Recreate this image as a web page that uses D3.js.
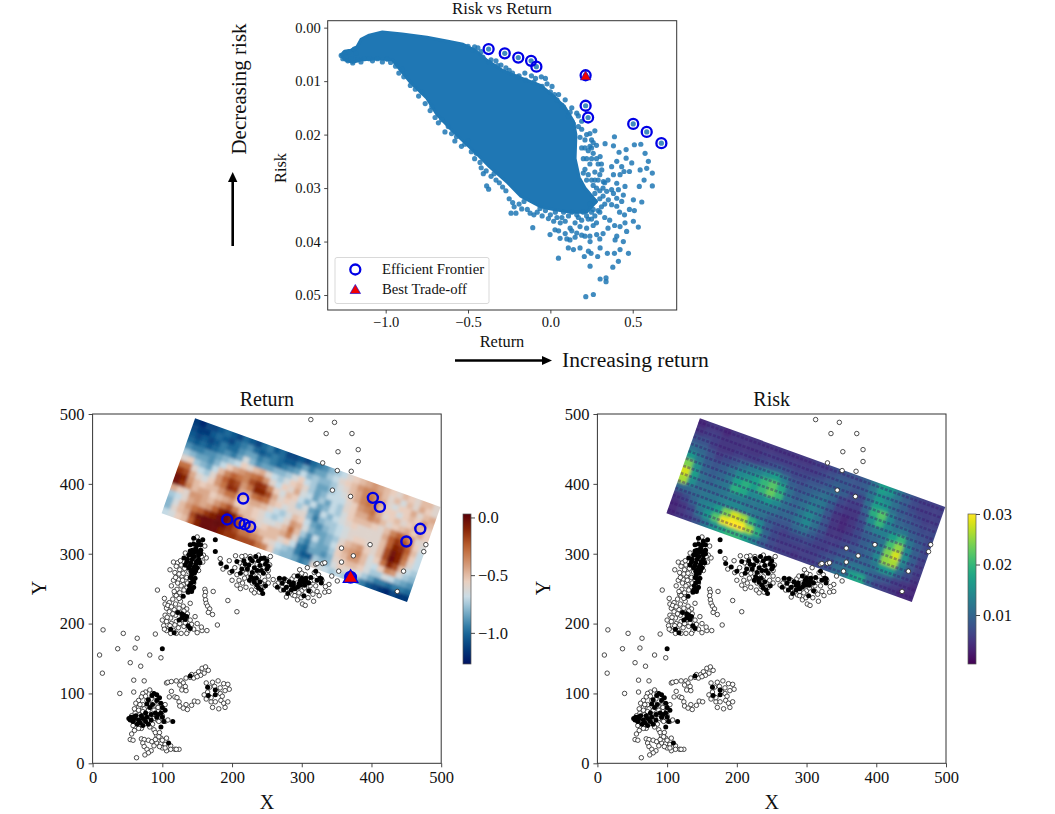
<!DOCTYPE html>
<html>
<head>
<meta charset="utf-8">
<script src="https://cdn.jsdelivr.net/npm/d3@7"></script>
<style>
  html, body { margin: 0; padding: 0; background: #fff; }
  svg { display: block; }
  text { font-family: "Liberation Serif", serif; fill: #111; }
</style>
</head>
<body>
<div id="chart"></div>
<script>
// top scatter, dense part of the cloud as an outline [return, risk]
var cloudOutline = [[-1.270,0.0051],[-1.250,0.0044],[-1.210,0.0042],[-1.175,0.0036],[-1.150,0.0022],[-1.100,0.0014],[-1.020,0.0008],[-0.900,0.0012],[-0.750,0.0018],[-0.630,0.0025],[-0.530,0.0031],[-0.450,0.0044],[-0.390,0.0060],[-0.290,0.0080],[-0.180,0.0094],[-0.060,0.0108],[0.020,0.0128],[0.090,0.0150],[0.140,0.0175],[0.155,0.0200],[0.150,0.0245],[0.175,0.0280],[0.210,0.0300],[0.280,0.0325],[0.220,0.0345],[0.120,0.0345],[0.020,0.0340],[-0.060,0.0335],[-0.180,0.0315],[-0.260,0.0290],[-0.370,0.0260],[-0.450,0.0235],[-0.530,0.0212],[-0.610,0.0188],[-0.690,0.0162],[-0.750,0.0132],[-0.850,0.0102],[-0.930,0.0072],[-0.960,0.0060],[-1.050,0.0058],[-1.150,0.0060],[-1.200,0.0065],[-1.250,0.0060]];

// single points read around the cloud
var riskReturnPoints = [[-1.25,0.0048],[-1.24,0.0055],[-1.22,0.0045],[-1.2,0.0066],[-1.19,0.004],[-1.17,0.006],[-1.13,0.0058],[-1.1,0.0058],[-1.05,0.0058],[-0.94,0.0072],[-0.9,0.0078],[-0.87,0.0085],[-0.78,0.012],[-0.72,0.0148],[-0.66,0.0172],[-0.62,0.0185],[-0.57,0.0204],[-0.5,0.0212],[-0.45,0.0235],[-0.427,0.0252],[-0.407,0.0273],[-0.387,0.0296],[-0.375,0.0302],[-0.342,0.0273],[-0.31,0.029],[-0.239,0.0347],[-0.209,0.0347],[-0.229,0.0327],[-0.174,0.0339],[-0.123,0.0347],[-0.107,0.0374],[-0.063,0.0338],[-0.012,0.0357],[-0.002,0.0387],[0.028,0.0378],[0.059,0.0394],[0.049,0.0431],[0.109,0.0412],[0.14,0.0415],[0.18,0.0412],[0.231,0.0418],[0.302,0.0412],[0.281,0.0387],[0.21,0.039],[0.16,0.0384],[0.119,0.0397],[0.241,0.04],[0.389,0.0204],[0.332,0.0217],[0.383,0.0221],[0.417,0.0233],[0.46,0.0228],[0.51,0.0219],[0.549,0.0218],[0.575,0.0235],[0.595,0.025],[0.619,0.0272],[0.619,0.0296],[0.569,0.0285],[0.585,0.0263],[0.545,0.0266],[0.48,0.0269],[0.447,0.0269],[0.433,0.026],[0.403,0.025],[0.383,0.0275],[0.423,0.0275],[0.494,0.0253],[0.46,0.0244],[0.302,0.0241],[0.312,0.0266],[0.372,0.026],[0.322,0.0288],[0.403,0.0291],[0.453,0.0297],[0.54,0.0297],[0.504,0.0322],[0.555,0.0326],[0.51,0.0342],[0.534,0.0373],[0.504,0.0362],[0.453,0.0365],[0.463,0.0381],[0.423,0.0372],[0.403,0.039],[0.443,0.04],[0.393,0.0397],[0.423,0.0415],[0.474,0.0422],[0.389,0.0422],[0.346,0.0422],[0.413,0.0437],[0.379,0.0448],[0.287,0.0428],[0.247,0.0422],[0.241,0.0446],[0.206,0.0428],[0.302,0.047],[0.338,0.0468],[0.338,0.0475],[0.261,0.0499],[0.215,0.0503],[0.342,0.0306],[0.352,0.0322],[0.372,0.0331],[0.403,0.0334],[0.433,0.0325],[0.443,0.0313],[0.413,0.0303],[0.372,0.0303],[0.403,0.0319],[0.383,0.031],[0.3,0.0345],[0.33,0.0355],[0.36,0.036],[0.39,0.037],[0.42,0.0345],[0.45,0.035],[0.48,0.034],[0.35,0.0375],[0.32,0.0385],[0.28,0.0365],[0.3,0.0395],[0.25,0.0345],[0.26,0.037],[0.22,0.0375],[0.19,0.036],[0.15,0.0365],[0.12,0.0375],[0.09,0.0385],[0.06,0.0365],[0.04,0.0355],[0.08,0.0345],[0.13,0.0345],[0.17,0.0355],[0.2,0.0345],[0.24,0.039],[0.1,0.0395],[0.24,0.0198],[0.27,0.0193],[0.21,0.021],[0.25,0.021],[0.28,0.022],[0.23,0.023],[0.26,0.0235],[0.2,0.0245],[0.24,0.0255],[0.29,0.0255],[0.3,0.0275],[0.33,0.029],[0.28,0.03],[0.35,0.0285],[0.3,0.032],[0.21,0.0265],[0.25,0.0285],[0.27,0.027],[0.32,0.0315],[0.27,0.0325],[-0.02,0.0105],[0.01,0.011],[0.05,0.0125],[0.09,0.0135],[0.13,0.015],[0.16,0.016],[0.19,0.0175],[0.17,0.0185],[0.14,0.018],[0.11,0.0165],[-0.03,0.0095],[-0.055,0.0092],[-0.09,0.0095],[-0.115,0.009],[-0.155,0.0085],[-0.19,0.009],[-0.23,0.0085],[-0.27,0.0075],[-0.33,0.0062],[-0.36,0.006],[-0.3,0.007],[-0.41,0.0055],[-0.44,0.0038],[-0.5,0.0035],[0.025,0.0125],[0.07,0.0145],
[-0.97,0.0065],[-0.92,0.0085],[-0.89,0.0092],[-0.85,0.0108],[-0.82,0.0115],[-0.8,0.0128],[-0.76,0.0142],[-0.73,0.0155],[-0.7,0.0168],[-0.68,0.0178],[-0.64,0.0195],[-0.6,0.0198],[-0.58,0.0212],[-0.54,0.0222],[-0.52,0.0218],[-0.48,0.0232],[-0.46,0.0245],[-0.42,0.0262],[-0.39,0.0268],[-0.36,0.0278],[-0.33,0.0285],[-0.29,0.0298],[-0.27,0.0305],[-0.25,0.032],[-0.22,0.0335],[-0.19,0.033],[-0.16,0.0325],[-0.14,0.034],[-0.1,0.035],[-0.08,0.0345],[-0.05,0.0352],[-0.03,0.0342],[0.0,0.035],[0.02,0.0362],[0.03,0.0345],[0.05,0.038],[0.07,0.0355],[0.09,0.0362],[0.11,0.0352],[0.13,0.038],[0.15,0.0392],[0.18,0.0372],[0.16,0.035],[0.23,0.0358],[0.25,0.0358],[0.27,0.0352],[0.22,0.0352],[0.19,0.0388],[0.31,0.0335],[0.33,0.033],[0.29,0.0342],[0.26,0.034],[0.24,0.033],[0.27,0.031],[0.3,0.0305],[0.32,0.03],[0.29,0.0285],[0.26,0.0295],[0.23,0.0275],[0.2,0.0272],[0.22,0.0285],[0.27,0.0285],[0.31,0.0255],[0.28,0.0245],[0.25,0.0245],[0.22,0.0245],[0.19,0.0225],[0.18,0.0205],[0.21,0.0225],[0.24,0.0222],[0.26,0.0215],[0.19,0.019],[0.22,0.02],[0.25,0.0225],[0.17,0.0165],[0.12,0.0158],[0.08,0.0148],[0.04,0.0135],[0.0,0.012],[-0.05,0.011],[-0.1,0.0102],[-0.15,0.0098],[-0.2,0.0092],[-0.25,0.008],[-0.32,0.0071],[-0.37,0.0065],[-0.42,0.0045],[-0.47,0.0042],[-0.46,0.0036],[-1.27,0.0052],[-1.26,0.0058],[-1.23,0.0062],[-1.21,0.0058],[-1.18,0.0048],[-1.15,0.0064],[-1.08,0.0062],[-1.02,0.0064],[-0.99,0.0059]];

var frontierReturn = [-0.375,-0.277,-0.195,-0.117,-0.085,0.214,0.214,0.229,0.503,0.585,0.674];
var frontierRisk = [0.0040,0.0048,0.0056,0.0062,0.0073,0.0089,0.0146,0.0168,0.0180,0.0195,0.0216];
var bestReturn = 0.214, bestRisk = 0.0092;

var xTicksTop = [-1.0,-0.5,0.0,0.5];
var yTicksTop = [0,0.01,0.02,0.03,0.04,0.05];
var mapTicks = [0,100,200,300,400,500];
var returnBarTicks = [0,-0.5,-1.0];
var riskBarTicks = [0.01,0.02,0.03];

// map corners of the scanned rectangle, map units
var rectTopLeft = [147,494], rectTopRight = [499,367], rectBottomLeft = [99,358];

// return grid, rows run from the long top edge down to the long bottom edge
var returnGrid = [
[-1.15,-1.2,-1.1,-1.1,-1.05,-1.0,-1.05,-1.1,-1.0,-1.05,-1.1,-1.0,-.95,-1.05,-1.0,-1.1,-1.1,-1.05,-1.1,-1.0,-.95,-.9,-.8,-.75,-.7,-.6,-.55,-.5,-.45,-.4,-.45,-.5,-.55,-.6,-.5,-.55,-.6,-.5,-.5,-.6],
[-1.1,-1.15,-1.15,-1.05,-1.0,-1.05,-1.1,-1.0,-.95,-.9,-1.0,-1.05,-1.0,-.95,-1.0,-1.05,-1.05,-.95,-.85,-.95,-.85,-.85,-.75,-.7,-.6,-.55,-.5,-.4,-.35,-.35,-.4,-.5,-.6,-.5,-.65,-.5,-.6,-.45,-.55,-.6],
[-1.05,-1.1,-1.05,-1.1,-1.05,-.95,-1.0,-1.0,-.9,-.85,-.85,-.95,-.9,-.95,-1.0,-.95,-.9,-.85,-.7,-.8,-.75,-.8,-.8,-.75,-.65,-.6,-.5,-.45,-.35,-.3,-.4,-.45,-.6,-.65,-.55,-.55,-.45,-.6,-.5,-.45],
[-1.0,-1.05,-1.0,-1.05,-1.0,-.95,-.9,-.95,-.85,-.65,-.8,-.9,-.85,-.85,-.8,-.8,-.75,-.65,-.55,-.7,-.75,-.85,-.85,-.75,-.7,-.65,-.55,-.45,-.35,-.3,-.35,-.5,-.55,-.55,-.65,-.55,-.5,-.55,-.4,-.5],
[-.9,-.95,-.95,-.9,-.9,-.85,-.8,-.75,-.7,-.55,-.6,-.5,-.45,-.6,-.7,-.75,-.65,-.55,-.5,-.6,-.75,-.85,-.8,-.7,-.7,-.7,-.6,-.55,-.4,-.35,-.3,-.45,-.6,-.55,-.5,-.6,-.55,-.45,-.5,-.55],
[-.75,-.8,-.85,-.85,-.9,-.8,-.7,-.55,-.45,-.4,-.35,-.3,-.25,-.4,-.6,-.7,-.55,-.6,-.45,-.65,-.7,-.85,-.75,-.85,-.7,-.75,-.6,-.55,-.45,-.45,-.35,-.4,-.5,-.6,-.55,-.5,-.45,-.55,-.45,-.55],
[-.6,-.55,-.75,-.8,-.85,-.7,-.5,-.35,-.25,-.3,-.35,-.2,-.12,-.15,-.35,-.55,-.65,-.5,-.55,-.7,-.8,-.7,-.85,-.8,-.7,-.75,-.65,-.55,-.5,-.5,-.5,-.55,-.6,-.5,-.35,-.25,-.3,-.4,-.6,-.6],
[-.3,-.3,-.6,-.7,-.75,-.6,-.4,-.25,-.15,-.2,-.4,-.3,-.1,-.1,-.2,-.45,-.6,-.55,-.6,-.75,-.65,-.85,-.9,-.7,-.8,-.7,-.65,-.6,-.55,-.6,-.6,-.6,-.6,-.45,-.25,-.15,-.2,-.3,-.55,-.65],
[-.15,-.2,-.45,-.6,-.65,-.55,-.4,-.3,-.12,-.15,-.45,-.45,-.3,-.25,-.3,-.5,-.55,-.65,-.6,-.6,-.6,-.8,-.95,-.8,-.75,-.75,-.7,-.65,-.6,-.6,-.6,-.6,-.6,-.5,-.25,-.1,-.12,-.25,-.5,-.7],
[-.05,-.1,-.4,-.5,-.55,-.5,-.5,-.4,-.3,-.3,-.5,-.55,-.45,-.45,-.5,-.6,-.7,-.75,-.65,-.5,-.55,-.7,-.85,-.9,-.8,-.75,-.7,-.65,-.6,-.55,-.55,-.6,-.6,-.5,-.2,-.05,-.1,-.3,-.55,-.7],
[-.05,-.15,-.35,-.5,-.45,-.45,-.55,-.5,-.45,-.4,-.55,-.55,-.5,-.55,-.6,-.7,-.75,-.7,-.6,-.4,-.45,-.65,-.8,-.85,-.85,-.8,-.75,-.6,-.5,-.45,-.4,-.55,-.6,-.5,-.2,-.02,-.1,-.35,-.6,-.7],
[-.45,-.55,-.6,-.4,-.4,-.45,-.5,-.4,-.3,-.2,-.35,-.5,-.5,-.55,-.6,-.65,-.65,-.6,-.5,-.3,-.5,-.75,-.9,-.7,-.85,-.8,-.7,-.55,-.45,-.4,-.35,-.5,-.65,-.55,-.3,-.1,-.2,-.5,-.7,-.75],
[-.75,-.7,-.6,-.45,-.4,-.45,-.4,-.25,-.1,-.03,-.08,-.25,-.5,-.45,-.6,-.55,-.5,-.5,-.45,-.35,-.6,-.85,-.95,-.8,-.85,-.85,-.75,-.55,-.5,-.4,-.4,-.5,-.65,-.7,-.55,-.35,-.4,-.65,-.75,-.8],
[-.8,-.65,-.5,-.4,-.3,-.25,-.15,-.08,-.03,-.02,-.06,-.2,-.4,-.4,-.45,-.5,-.5,-.5,-.6,-.55,-.7,-.95,-1.0,-.85,-.85,-.9,-.8,-.6,-.55,-.5,-.5,-.55,-.65,-.75,-.75,-.65,-.7,-.8,-.85,-.9],
[-.8,-.6,-.5,-.45,-.2,-.05,-.02,-.02,0,-.03,-.12,-.2,-.3,-.3,-.35,-.4,-.55,-.6,-.7,-.75,-.8,-.95,-1.05,-1.05,-.75,-.8,-.8,-.65,-.55,-.6,-.6,-.65,-.75,-.85,-.95,-.95,-1.0,-.95,-.95,-1.0],
[-.7,-.65,-.55,-.5,-.25,-.1,-.02,-.02,-.03,-.1,-.15,-.15,-.2,-.2,-.2,-.3,-.35,-.55,-.75,-.8,-.8,-.85,-.95,-.9,-.6,-.65,-.7,-.75,-.7,-.75,-.75,-.85,-.95,-1.05,-1.1,-1.15,-1.2,-1.1,-1.15,-1.15]
];

var riskGrid = [
[.004,.005,.005,.004,.005,.005,.005,.005,.005,.005,.005,.005,.005,.005,.006,.006,.007,.008,.008,.008,.009,.012,.017,.016,.012,.009,.007,.006,.006,.006],
[.005,.006,.006,.005,.005,.005,.005,.005,.006,.006,.006,.006,.006,.006,.006,.007,.008,.009,.009,.008,.009,.012,.016,.014,.011,.009,.007,.006,.006,.006],
[.008,.008,.006,.005,.005,.006,.006,.006,.007,.008,.009,.008,.007,.007,.008,.008,.009,.010,.009,.007,.007,.011,.017,.016,.011,.009,.008,.007,.006,.006],
[.011,.010,.008,.006,.007,.008,.010,.012,.013,.015,.017,.013,.009,.008,.009,.010,.011,.010,.007,.006,.006,.010,.019,.022,.014,.010,.009,.008,.007,.007],
[.016,.012,.009,.008,.009,.011,.014,.015,.017,.020,.022,.018,.011,.009,.010,.012,.012,.009,.006,.005,.005,.008,.015,.020,.014,.012,.012,.009,.008,.007],
[.024,.015,.010,.009,.010,.012,.017,.019,.017,.020,.023,.020,.012,.010,.011,.013,.012,.008,.005,.004,.005,.007,.011,.013,.013,.017,.020,.012,.009,.007],
[.028,.017,.011,.010,.011,.012,.019,.018,.014,.014,.016,.014,.011,.010,.012,.014,.012,.008,.005,.004,.005,.007,.009,.010,.012,.021,.025,.014,.009,.007],
[.026,.015,.011,.011,.011,.012,.013,.013,.012,.012,.012,.011,.010,.010,.012,.014,.011,.008,.005,.005,.006,.007,.009,.010,.013,.024,.028,.015,.009,.006],
[.010,.010,.011,.012,.012,.013,.014,.014,.013,.012,.011,.009,.008,.008,.010,.011,.009,.007,.006,.006,.007,.008,.009,.010,.014,.025,.026,.013,.008,.006],
[.005,.007,.010,.013,.014,.017,.024,.028,.026,.019,.014,.009,.007,.006,.007,.007,.007,.006,.006,.007,.008,.009,.010,.010,.012,.016,.016,.010,.007,.005],
[.004,.005,.007,.012,.016,.022,.029,.030,.030,.026,.019,.010,.007,.006,.006,.006,.006,.006,.007,.008,.010,.011,.012,.012,.010,.009,.008,.006,.005,.004],
[.004,.005,.006,.008,.012,.015,.018,.020,.020,.017,.013,.009,.007,.006,.006,.005,.006,.006,.007,.008,.011,.012,.017,.018,.010,.007,.006,.005,.004,.004]
];

// colour stops of the return map
var returnColors = ["#001261","#033e7d","#1e6f9d","#71a8c4","#c9dde7","#eacebd","#d39774","#be6533","#8b2706","#590008"];

var mapFrontierX = [216,193,210.6,218,226,402,412,450,470];
var mapFrontierY = [379,349,344,342,338.6,380,367,317.5,335.7];
var mapBestX = 370, mapBestY = 265;

// white sampled locations, map units
var openPoints = [
[313,492],[347,488],[335,472],[372,472],[352,446],[381,449],[330,430],[381,432],[351,419],[371,418],[344,391],[370,382],[398,313],[357,308],[374,297],[478,313],[475,303],[357,288],[330,286],[320,285],[353,275],[446,275],[437,246],[351,261],[339,256],[333,245],
[15,191],[44,186],[64,179],[90,185],[36,164],[61,165],[10,155],[82,155],[98,151],[54,144],[69,139],[14,129],[59,119],[74,118],[39,100],[59,102],
[150,324],[147,318],[154,316],[161,311],[133,301],[135,292],[130,289],[163,294],[159,298],[116,288],[122,287],[111,277],[125,277],[118,273],[128,268],[123,263],[116,262],[113,254],[130,256],[135,251],[121,249],[125,244],[118,242],[127,284],[132,279],[138,274],[135,266],[129,262],[124,271],[140,262],[145,258],[136,258],[131,248],[141,248],[150,292],[155,305],[146,300],[158,288],[152,276],[144,283],[120,282],[126,290],[133,284],[130,272],[119,266],[127,254],[122,258],[117,246],[126,238],[156,296],[151,282],
[103,236],[104,228],[106,222],[110,230],[115,235],[120,240],[126,232],[130,225],[124,222],[117,220],[110,217],[104,212],[112,208],[119,212],[126,215],[135,221],[140,229],[136,214],[129,206],[120,203],[113,200],[106,203],[100,205],[102,197],[109,193],[116,190],[123,194],[131,196],[137,190],[145,192],[150,187],[157,190],[164,190],[142,199],[135,186],[127,186],[120,186],[106,190],[112,186],[150,200],[156,195],[147,210],[140,205],[108,226],[113,224],[119,228],[124,236],[131,218],[115,214],[107,209],[118,198],[125,200],[133,201],[103,192],[111,197],
[161,249],[162,245],[161,240],[162,234],[163,229],[165,225],[168,221],[166,216],[172,213],[173,246],[194,233],[179,198],[207,217],[93,248],
[183,293],[187,278],[196,290],[197,273],[200,262],[207,255],[212,250],[218,265],[222,281],[228,288],[232,277],[225,272],[215,275],[207,270],[204,280],[211,287],[238,267],[242,258],[235,253],[228,248],[232,244],[239,245],[245,252],[252,268],[246,280],[236,285],[249,292],[238,298],[226,296],[219,297],[205,297],[247,262],[254,284],[255,296],[229,258],[215,258],[220,252],[210,262],[215,282],[220,272],[226,262],[230,270],[237,275],[243,288],[233,292],[214,296],[252,276],[241,251],
[259,263],[266,258],[272,252],[280,247],[287,241],[294,234],[301,228],[305,226],[299,237],[290,246],[283,256],[278,262],[286,264],[293,258],[300,247],[309,237],[317,232],[312,246],[303,257],[296,268],[305,270],[314,262],[320,254],[322,246],[325,240],[297,277],[308,280],[318,273],[329,262],[334,253],[343,268],[322,286],[333,287],[339,246],[278,238],[270,248],[262,255],[252,258],[274,258],[282,250],[290,240],[296,244],[304,251],[312,254],[318,262],[308,264],[300,272],[289,268],[277,256],[268,264],[324,270],[316,242],
[82,105],[76,102],[72,100],[86,100],[70,95],[66,90],[62,86],[66,80],[72,84],[78,90],[90,96],[93,88],[98,82],[88,82],[80,76],[74,72],[68,70],[61,72],[56,68],[58,60],[64,58],[70,62],[78,66],[86,70],[94,74],[100,78],[104,84],[100,68],[93,62],[86,56],[78,58],[70,50],[62,52],[60,47],[56,42],[88,48],[92,40],[98,36],[95,60],[104,60],[108,62],[66,76],[74,78],[82,84],[84,92],[76,96],[68,84],[60,78],[64,66],[72,74],[88,76],[94,80],[80,62],[88,64],[74,56],[66,50],[58,54],[82,52],[90,44],[96,44],[100,74],
[54,34],[58,33],[70,35],[74,34],[80,33],[85,31],[92,29],[98,28],[104,27],[100,33],[106,36],[112,25],[118,20],[124,20],[120,20],[112,20],[106,18],[100,22],[72,29],[74,24],[78,20],[84,18],[80,15],[63,8],[75,12],[88,25],[95,38],[90,34],[96,24],[104,22],
[106,115],[108,116],[113,117],[120,118],[127,118],[134,122],[140,123],[148,127],[152,131],[157,136],[162,138],[166,133],[160,129],[155,126],[145,122],[130,115],[133,110],[128,105],[134,104],[113,103],[110,95],[118,95],[121,94],[124,88],[125,82],[134,84],[142,83],[146,89],[151,88],[130,79],[136,77],[163,115],[168,109],[172,116],[180,118],[188,114],[194,113],[196,106],[190,104],[183,100],[178,103],[165,102],[160,98],[163,92],[170,88],[176,88],[184,90],[188,86],[190,80],[194,88],[181,78],[172,80],[175,110],[183,108],[186,96],[170,94],[150,124],[142,127],[125,112]
];

// black sampled locations, map units
var blackPoints = [
[145,322],[140,313],[148,308],[143,305],[150,303],[155,300],[138,298],[146,296],[152,292],[135,288],[141,287],[148,285],[138,280],[144,277],[150,280],[142,270],[147,265],[141,258],[145,252],[138,248],[142,246],[131,294],[155,313],[152,318],[145,314],[150,312],[140,304],[146,302],[152,298],[142,298],[136,292],[143,292],[149,289],[154,287],[140,283],[146,281],[141,275],[146,272],[148,276],[140,266],[145,260],[143,264],[139,254],[143,250],[137,245],[133,284],[155,305],[158,320],
[130,239],[122,216],[131,212],[135,210],[128,208],[124,205],[140,193],[112,192],[117,187],[100,164],[176,320],[176,303],[128,214],[133,206],[137,197],
[184,286],[192,281],[200,275],[207,289],[217,290],[226,293],[234,296],[242,293],[248,285],[252,282],[240,283],[232,280],[222,278],[227,267],[235,265],[245,272],[240,260],[232,259],[238,251],[244,243],[214,278],[219,285],[224,284],[229,290],[238,290],[246,294],[250,290],[236,276],[242,276],[229,273],[225,262],[231,264],[236,255],[242,248],[248,254],[250,278],[212,272],
[268,265],[272,258],[278,252],[285,255],[290,250],[296,257],[302,260],[298,262],[306,265],[294,268],[280,243],[303,240],[320,275],[326,265],[328,258],[310,247],[285,248],[265,252],[275,264],[282,260],[288,258],[294,252],[300,265],[304,255],[310,258],[298,255],[274,248],[288,254],[306,260],[313,266],[328,264],[322,262],
[92,98],[88,100],[85,97],[80,91],[78,85],[98,86],[100,80],[90,72],[84,70],[78,66],[72,64],[66,62],[60,64],[55,66],[54,62],[58,60],[64,56],[72,54],[80,56],[98,52],[102,60],[115,60],[100,66],[92,90],[96,94],[86,84],[82,80],[94,70],[98,72],[76,72],[70,68],[62,68],[58,66],[52,64],[68,58],[76,60],[84,62],[92,66],[104,76],
[109,29],[165,109],[166,97],[176,105],[176,98],[140,125]
];

// chart frame, px on the page
var topFrame = {left: 327.7, right: 676.7, top: 20.7, bottom: 310};
var returnFrame = {left: 92.6, right: 441.2, top: 414, bottom: 763.3};
var riskFrame = {left: 597.4, right: 946, top: 414, bottom: 763.3};

var svg = d3.select("#chart").append("svg").attr("width", 1055).attr("height", 814);
var defs = svg.append("defs");

defs.append("filter").attr("id", "soft").attr("filterUnits", "userSpaceOnUse")
    .attr("x", -60).attr("y", -60).attr("width", 520).attr("height", 260)
    .append("feGaussianBlur").attr("stdDeviation", 1.7);

function styleAxis(g, size) {
    g.selectAll("path.domain").remove();
    g.selectAll("line").attr("stroke", "#333").attr("stroke-width", 0.9);
    g.selectAll("text").attr("font-size", size).attr("font-family", '"Liberation Serif", serif').attr("fill", "#111");
}

function drawFrame(f) {
    svg.append("rect")
        .attr("x", f.left).attr("y", f.top)
        .attr("width", f.right - f.left).attr("height", f.bottom - f.top)
        .attr("fill", "none").attr("stroke", "#333").attr("stroke-width", 1);
}

function drawTop() {
    var f = topFrame;
    var x = d3.scaleLinear().domain([-1.352, 0.767]).range([f.left, f.right]);
    var y = d3.scaleLinear().domain([-0.0013, 0.0528]).range([f.top, f.bottom]);

    var line = d3.line().x(function(d) { return x(d[0]); }).y(function(d) { return y(d[1]); });

    svg.append("path").attr("d", line(cloudOutline) + "Z")
        .attr("fill", "#1f77b4").attr("stroke", "#1f77b4").attr("stroke-width", 3).attr("stroke-linejoin", "round");

    svg.append("g").selectAll("circle").data(riskReturnPoints).enter().append("circle")
        .attr("cx", function(d) { return x(d[0]); })
        .attr("cy", function(d) { return y(d[1]); })
        .attr("r", 2.6).attr("fill", "#1f77b4").attr("fill-opacity", 0.85);

    // frontier members are also part of the cloud
    svg.append("g").selectAll("circle").data(frontierReturn).enter().append("circle")
        .attr("cx", function(d) { return x(d); })
        .attr("cy", function(d, i) { return y(frontierRisk[i]); })
        .attr("r", 2.6).attr("fill", "#1f77b4").attr("fill-opacity", 0.85);
    svg.append("g").selectAll("circle").data(frontierReturn).enter().append("circle")
        .attr("cx", function(d) { return x(d); })
        .attr("cy", function(d, i) { return y(frontierRisk[i]); })
        .attr("r", 5).attr("fill", "none").attr("stroke", "#0000e6").attr("stroke-width", 2.3);

    svg.append("path")
        .attr("transform", "translate(" + x(bestReturn) + "," + y(bestRisk) + ")")
        .attr("d", d3.symbol().type(d3.symbolTriangle).size(48))
        .attr("fill", "#f00000").attr("stroke", "#0000e6").attr("stroke-width", 0.6);

    drawFrame(f);

    svg.append("g").attr("transform", "translate(0," + f.bottom + ")")
        .call(d3.axisBottom(x).tickValues(xTicksTop).tickFormat(d3.format(".1f")).tickSize(3.5).tickPadding(3.5))
        .call(styleAxis, 14.5);
    svg.append("g").attr("transform", "translate(" + f.left + ",0)")
        .call(d3.axisLeft(y).tickValues(yTicksTop).tickFormat(d3.format(".2f")).tickSize(3.5).tickPadding(3.5))
        .call(styleAxis, 14.5);

    svg.append("text").attr("x", 502).attr("y", 14).attr("text-anchor", "middle").attr("font-size", 16.8).text("Risk vs Return");
    svg.append("text").attr("x", 502).attr("y", 347).attr("text-anchor", "middle").attr("font-size", 16.4).text("Return");
    svg.append("text").attr("transform", "translate(286,168) rotate(-90)").attr("text-anchor", "middle").attr("font-size", 16.4).text("Risk");

    // legend
    svg.append("rect").attr("x", 335).attr("y", 257.5).attr("width", 154).attr("height", 46).attr("rx", 2)
        .attr("fill", "#fff").attr("fill-opacity", 0.8).attr("stroke", "#d5d5d5").attr("stroke-width", 0.9);
    svg.append("circle").attr("cx", 355.3).attr("cy", 269.5).attr("r", 5)
        .attr("fill", "none").attr("stroke", "#0000e6").attr("stroke-width", 2.3);
    svg.append("path").attr("transform", "translate(355.3,290.5)")
        .attr("d", d3.symbol().type(d3.symbolTriangle).size(48))
        .attr("fill", "#f00000").attr("stroke", "#0000e6").attr("stroke-width", 0.6);
    svg.append("text").attr("x", 382).attr("y", 273.5).attr("font-size", 14.7).text("Efficient Frontier");
    svg.append("text").attr("x", 382).attr("y", 294).attr("font-size", 14.7).text("Best Trade-off");

    // direction arrows
    svg.append("line").attr("x1", 232.7).attr("y1", 246).attr("x2", 232.7).attr("y2", 180).attr("stroke", "#000").attr("stroke-width", 2.6);
    svg.append("path").attr("d", "M232.7,172L228,182L237.4,182Z").attr("fill", "#000");
    svg.append("line").attr("x1", 455).attr("y1", 360.5).attr("x2", 543).attr("y2", 360.5).attr("stroke", "#000").attr("stroke-width", 2.6);
    svg.append("path").attr("d", "M552,360.5L542,356L542,365Z").attr("fill", "#000");
    svg.append("text").attr("transform", "translate(246,89) rotate(-90)").attr("text-anchor", "middle").attr("font-size", 21).text("Decreasing risk");
    svg.append("text").attr("x", 562).attr("y", 367).attr("font-size", 21.6).text("Increasing return");
}

function drawMap(f, grid, colorOf, title, clipId, striped, markers) {
    var x = d3.scaleLinear().domain([0, 500]).range([f.left, f.right]);
    var y = d3.scaleLinear().domain([0, 500]).range([f.bottom, f.top]);

    var x0 = x(rectTopLeft[0]), y0 = y(rectTopLeft[1]);
    var ux = x(rectTopRight[0]) - x0, uy = y(rectTopRight[1]) - y0;
    var vx = x(rectBottomLeft[0]) - x0, vy = y(rectBottomLeft[1]) - y0;
    var uLen = Math.sqrt(ux * ux + uy * uy), vLen = Math.sqrt(vx * vx + vy * vy);
    var matrix = "matrix(" + [ux / uLen, uy / uLen, vx / vLen, vy / vLen, x0, y0].join(",") + ")";

    var nRows = grid.length, nCols = grid[0].length;
    var col = d3.scaleLinear().domain([0, nCols]).range([0, uLen]);
    var row = d3.scaleLinear().domain([0, nRows]).range([0, vLen]);

    defs.append("clipPath").attr("id", clipId).append("rect").attr("width", uLen).attr("height", vLen);

    var outer = svg.append("g").attr("transform", matrix);
    var clipped = outer.append("g").attr("clip-path", "url(#" + clipId + ")");
    var soft = clipped.append("g").attr("filter", "url(#soft)");

    // edge cells run past the rectangle so the blur does not fade at the clip
    grid.forEach(function(values, j) {
        values.forEach(function(v, i) {
            var xa = col(i) - (i == 0 ? 15 : 0), xb = col(i + 1) + (i == nCols - 1 ? 15 : 0.5);
            var ya = row(j) - (j == 0 ? 15 : 0), yb = row(j + 1) + (j == nRows - 1 ? 15 : 0.5);
            soft.append("rect").attr("x", xa).attr("y", ya).attr("width", xb - xa).attr("height", yb - ya).attr("fill", colorOf(v));
        });
    });

    if (striped) {
        d3.range(0.5, 13).forEach(function(k) {
            clipped.append("line")
                .attr("x1", 0).attr("x2", uLen)
                .attr("y1", k * vLen / 13).attr("y2", k * vLen / 13)
                .attr("stroke", "#3b0f6b").attr("stroke-opacity", 0.38).attr("stroke-width", 2.6)
                .attr("stroke-dasharray", "3,1.5");
        });
    }

    svg.append("g").selectAll("circle").data(openPoints).enter().append("circle")
        .attr("cx", function(d) { return x(d[0]); })
        .attr("cy", function(d) { return y(d[1]); })
        .attr("r", 2.25).attr("fill", "#fff").attr("stroke", "#222").attr("stroke-width", 0.8);
    svg.append("g").selectAll("circle").data(blackPoints).enter().append("circle")
        .attr("cx", function(d) { return x(d[0]); })
        .attr("cy", function(d) { return y(d[1]); })
        .attr("r", 2.5).attr("fill", "#000");

    if (markers) {
        svg.append("g").selectAll("circle").data(mapFrontierX).enter().append("circle")
            .attr("cx", function(d) { return x(d); })
            .attr("cy", function(d, i) { return y(mapFrontierY[i]); })
            .attr("r", 5).attr("fill", "none").attr("stroke", "#0000e6").attr("stroke-width", 2.4);
        svg.append("circle").attr("cx", x(mapBestX)).attr("cy", y(mapBestY) - 1).attr("r", 5.5)
            .attr("fill", "#d03030").attr("stroke", "#0000e6").attr("stroke-width", 2);
        svg.append("path")
            .attr("transform", "translate(" + x(mapBestX) + "," + y(mapBestY) + ")")
            .attr("d", d3.symbol().type(d3.symbolTriangle).size(95))
            .attr("fill", "#f00000").attr("stroke", "#0000e6").attr("stroke-width", 1.2);
    }

    drawFrame(f);

    svg.append("g").attr("transform", "translate(0," + f.bottom + ")")
        .call(d3.axisBottom(x).tickValues(mapTicks).tickFormat(d3.format("d")).tickSize(4).tickPadding(4))
        .call(styleAxis, 16.5);
    svg.append("g").attr("transform", "translate(" + f.left + ",0)")
        .call(d3.axisLeft(y).tickValues(mapTicks).tickFormat(d3.format("d")).tickSize(4).tickPadding(4))
        .call(styleAxis, 16.5);

    var mid = (f.left + f.right) / 2;
    svg.append("text").attr("x", mid).attr("y", 406).attr("text-anchor", "middle").attr("font-size", 20).text(title);
    svg.append("text").attr("x", mid).attr("y", 809).attr("text-anchor", "middle").attr("font-size", 20).text("X");
    svg.append("text").attr("transform", "translate(" + (f.left - 47) + ",588) rotate(-90)")
        .attr("text-anchor", "middle").attr("font-size", 20).text("Y");
}

function drawBar(id, xLeft, width, top, bottom, domain, colorOf, ticks, fmt) {
    var y = d3.scaleLinear().domain(domain).range([bottom, top]);
    var grad = defs.append("linearGradient").attr("id", id).attr("x1", 0).attr("x2", 0).attr("y1", 1).attr("y2", 0);
    d3.range(0, 1.001, 0.05).forEach(function(t) {
        grad.append("stop").attr("offset", t).attr("stop-color", colorOf(domain[0] + t * (domain[1] - domain[0])));
    });
    svg.append("rect").attr("x", xLeft).attr("y", top).attr("width", width).attr("height", bottom - top)
        .attr("fill", "url(#" + id + ")").attr("stroke", "#555").attr("stroke-width", 0.7);
    svg.append("g").attr("transform", "translate(" + (xLeft + width) + ",0)")
        .call(d3.axisRight(y).tickValues(ticks).tickFormat(d3.format(fmt)).tickSize(4).tickPadding(3))
        .call(styleAxis, 16.5);
}

var returnDomain = [-1.27, 0.03];
var returnColor = d3.scaleLinear()
    .domain(d3.range(10).map(function(i) { return returnDomain[0] + i * (returnDomain[1] - returnDomain[0]) / 9; }))
    .range(returnColors).clamp(true);
var riskDomain = [0.0003, 0.03];
var riskColor = d3.scaleSequential(d3.interpolateViridis).domain(riskDomain).clamp(true);

drawTop();
drawMap(returnFrame, returnGrid, returnColor, "Return", "clipReturn", false, true);
drawMap(riskFrame, riskGrid, riskColor, "Risk", "clipRisk", true, false);
drawBar("barReturn", 463, 8, 514, 664, returnDomain, returnColor, returnBarTicks, ".1f");
drawBar("barRisk", 968, 8, 514, 664, riskDomain, riskColor, riskBarTicks, ".2f");
</script>
</body>
</html>
